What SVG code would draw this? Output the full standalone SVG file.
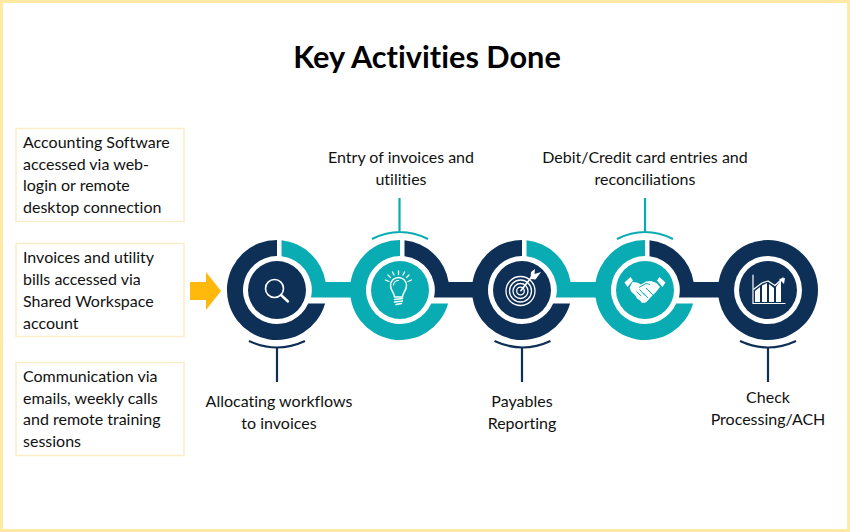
<svg xmlns="http://www.w3.org/2000/svg" width="850" height="532" viewBox="0 0 850 532">
<defs>
<style>
text{font-family:"Lato","Liberation Sans",sans-serif;font-size:16px;fill:#111;font-variant-ligatures:none}
.c{text-anchor:middle}
.title{font-size:30.7px;font-weight:700;fill:#000}
.box{fill:#fff;stroke:#faeec8;stroke-width:1.5}
.navy{fill:#0e2f56}.teal{fill:#0aacb4}
.sn{fill:none;stroke:#0e2f56;stroke-width:2.2}
.st{fill:none;stroke:#0aacb4;stroke-width:2.2}
.ic{fill:none;stroke:#fff;stroke-width:1.5;stroke-linecap:round;stroke-linejoin:round}
.icf{fill:#fff;stroke:none}
</style>
<path id="right" d="M4.5-49.8A50 50 0 0 1 48.6-8H78V7.500H34A34 34 0 0 0 4.500-33.700Z"/>
<path id="left" d="M0-50A50 50 0 1 0 48.100 13.500H31.200A34 34 0 1 1 0-34Z"/>
</defs>
<rect x="1.500" y="1.500" width="847" height="529" fill="#fff" stroke="#ffe9a3" stroke-width="3"/>
<text class="title c" x="427" y="68">Key Activities Done</text>

<g id="box-1"><rect class="box" x="16" y="128.500" width="168" height="93"/>
<text x="23" y="148">Accounting Software</text><text x="23" y="170">accessed via web-</text><text x="23" y="191">login or remote</text><text x="23" y="213">desktop connection</text></g>
<g id="box-2"><rect class="box" x="16" y="243.500" width="168" height="93"/>
<text x="23" y="263">Invoices and utility</text><text x="23" y="285">bills accessed via</text><text x="23" y="307">Shared Workspace</text><text x="23" y="329">account</text></g>
<g id="box-3"><rect class="box" x="16" y="362.500" width="168" height="93"/>
<text x="23" y="382">Communication via</text><text x="23" y="404">emails, weekly calls</text><text x="23" y="425">and remote training</text><text x="23" y="447">sessions</text></g>

<g id="connectors">
<path id="start-arrow" d="M190 282H206V272L221 291L206 310V300H190Z" fill="#ffb80c"/>
<path class="sn" d="M249 341Q277 354 305 341M277 348V382"/>
<path class="st" d="M372 239Q400 225 428 239M399.500 232V198"/>
<path class="sn" d="M494.500 341Q522.500 354 550.500 341M522 348V382"/>
<path class="st" d="M617 239Q645 225 673 239M645 232V198"/>
<path class="sn" d="M740 341Q768 354 796 341M768 348V382"/>
</g>

<g id="node-1">
<use href="#right" class="teal" x="277" y="290"/><use href="#left" class="navy" x="277" y="290"/>
<circle class="navy" cx="277" cy="290" r="29"/>
<circle class="ic" cx="274.500" cy="288.500" r="9" style="stroke-width:1.600"/>
<path class="ic" d="M281 295L288 301.500" style="stroke-width:2.400"/>
<text class="c" x="279" y="407">Allocating workflows</text><text class="c" x="279" y="429">to invoices</text>
</g>

<g id="node-2">
<use href="#right" class="navy" x="400" y="290"/><use href="#left" class="teal" x="400" y="290"/>
<circle class="teal" cx="400" cy="290" r="29"/>
<path class="ic" d="M394.500 297C394.500 292.500 390.500 291 390.500 285.500A8 8 0 0 1 406.500 285.500C406.500 291 402.500 292.500 402.500 297Z" style="stroke-width:1.500"/>
<path class="ic" d="M393.500 285A5 5 0 0 1 398.500 280.500" style="stroke-width:1.200"/>
<path class="ic" d="M394.500 299.500L402.500 298.500M394.500 302L402.500 301M396 304.500L401.500 303.500" style="stroke-width:1.500"/>
<path class="ic" d="M385.500 280L389 281.500M388 275L390.500 277.500M392.500 272L394 275M398.500 271V274.500M404.500 272L403 275M409 275L406.500 277.500M411.500 280L408 281.500" style="stroke-width:1.300"/>
<text class="c" x="401" y="163">Entry of invoices and</text><text class="c" x="401" y="185">utilities</text>
</g>

<g id="node-3">
<use href="#right" class="teal" x="522" y="290"/><use href="#left" class="navy" x="522" y="290"/>
<circle class="navy" cx="522" cy="290" r="29"/>
<circle class="ic" cx="520.500" cy="291" r="14.500" style="stroke-width:1.300"/>
<circle class="ic" cx="520.500" cy="291" r="11" style="stroke-width:1.300"/>
<circle class="ic" cx="520.500" cy="291" r="7.500" style="stroke-width:1.300"/>
<circle class="ic" cx="520.500" cy="291" r="3.800" style="stroke-width:1.300"/>
<path class="ic" d="M521 290.500L532 276.500" style="stroke-width:1.800"/>
<path class="icf" d="M531 272L535 269L534.500 274L541 272L535.500 279.500L530.500 279Z"/>
<text class="c" x="522" y="407">Payables</text><text class="c" x="522" y="429">Reporting</text>
</g>

<g id="node-4">
<use href="#right" class="navy" x="645" y="290"/><use href="#left" class="teal" x="645" y="290"/>
<circle class="teal" cx="645" cy="290" r="29"/>
<path class="icf" d="M624.500 282.500L630.500 277L633 280.500L627.500 287ZM665.500 282.500L659.500 277L657 280.500L662.500 287Z"/>
<path class="icf" d="M632.500 282L637 282.500L641 284.500L646 281.500L651 281L656.500 283L660 287L656 292L650 298L646 302.500L642 303L640 300.500L637 298.500L635 295L631.500 292L629.500 288Z"/>
<path d="M639 287.500L646 283.500L650 284.500M646 288L654 296M636.500 291.500L641 296M639.500 289.500L645 295.500M643.500 293L648 298" fill="none" stroke="#0aacb4" stroke-width="1"/>
<text class="c" x="645" y="163">Debit/Credit card entries and</text><text class="c" x="645" y="185">reconciliations</text>
</g>

<g id="node-5">
<circle class="navy" cx="768" cy="290" r="50"/>
<circle cx="768" cy="290" r="34" fill="#fff"/>
<circle class="navy" cx="768" cy="290" r="29"/>
<path class="ic" d="M753 275V303.500H785" style="stroke-width:1.200"/>
<path class="icf" d="M755 291L760 287V302H755ZM762 285.500L767 283V302H762ZM769 284L774 288V302H769ZM776 287L781 280V302H776Z"/>
<path class="ic" d="M754 289L762 283L768 281L775 285.500L783 278" style="stroke-width:1.300"/>
<path class="icf" d="M779 279L785 278L784 284Z"/>
<text class="c" x="768" y="403">Check</text><text class="c" x="768" y="425">Processing/ACH</text>
</g>
</svg>
